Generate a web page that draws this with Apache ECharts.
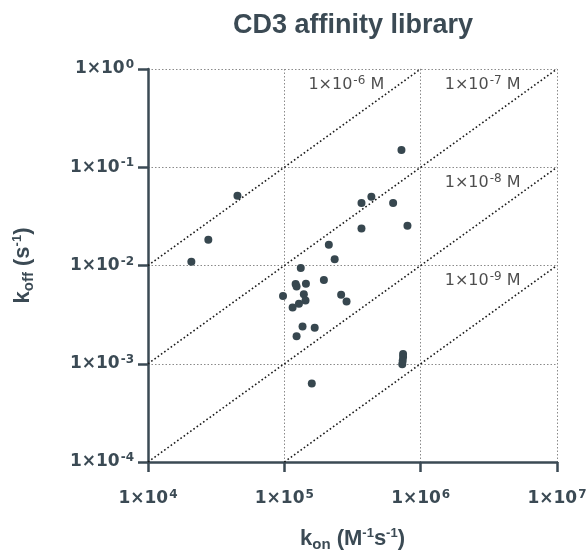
<!DOCTYPE html>
<html>
<head>
<meta charset="utf-8">
<script src="https://cdn.jsdelivr.net/npm/echarts@6/dist/echarts.min.js"></script>
<style>html,body{margin:0;padding:0;background:#fff}#c{width:587px;height:554px}</style>
</head>
<body>
<div id="c"></div>
<script>
// kon (M^-1 s^-1)
const kon = [7.23e5, 4.53e4, 2.77e4, 2.08e4, 3.68e5, 4.35e5, 6.28e5, 3.68e5, 8.0e5, 2.12e5,
             2.34e5, 1.32e5, 1.21e5, 1.23e5, 1.44e5, 1.95e5, 9.78e4, 1.39e5, 1.43e5, 1.28e5,
             1.15e5, 2.61e5, 2.86e5, 1.36e5, 1.67e5, 1.23e5, 1.59e5, 7.43e5, 7.43e5, 7.38e5, 7.33e5];
// koff (s^-1)
const koff = [0.150, 0.0513, 0.0183, 0.0109, 0.0432, 0.0501, 0.0432, 0.0238, 0.0254, 0.0163,
              0.0116, 0.00941, 0.00647, 0.00611, 0.00651, 0.00710, 0.00488, 0.00511, 0.00440, 0.00407,
              0.00373, 0.00503, 0.00430, 0.00239, 0.00232, 0.00191, 0.000629, 0.00126, 0.00117, 0.00107, 0.00099];
// iso-affinity lines (KD, M)
const kdValues = [1e-6, 1e-7, 1e-8, 1e-9];
const kdExponents = [-6, -7, -8, -9];
const xRange = [1e4, 1e7];
const yRange = [1e-4, 1];

const FONT = 'DejaVu Sans';
const INK = '#3b4a54';

const points = kon.map((k, i) => [k, koff[i]]);

function isoLine(kd) {
  let x0 = xRange[0], y0 = x0 * kd;
  if (y0 < yRange[0]) { y0 = yRange[0]; x0 = y0 / kd; }
  let x1 = xRange[1], y1 = x1 * kd;
  if (y1 > yRange[1]) { y1 = yRange[1]; x1 = y1 / kd; }
  return [[x0, y0], [x1, y1]];
}

const lineSeries = kdValues.map(kd => ({
  type: 'line',
  data: isoLine(kd),
  symbol: 'none',
  silent: true,
  lineStyle: { color: '#1a1a1a', width: 1.6, type: [1.6, 2.4] },
  z: 2
}));

const labelData = kdValues.map((kd, i) => {
  const end = isoLine(kd)[1];
  return { value: [end[0] * 0.54, end[1] * 0.69], exp: kdExponents[i] };
});

const expFmt = v => {
  const e = Math.round(Math.log10(v));
  return '{b|1×10}{s|' + e + '}';
};

const nameRich = {
  k: { fontFamily: 'Liberation Sans', fontWeight: 'bold', fontSize: 22, color: INK, lineHeight: 26 },
  sub: { fontFamily: 'Liberation Sans', fontWeight: 'bold', fontSize: 15, color: INK, padding: [12, 0, 0, 0] },
  sup: { fontFamily: 'Liberation Sans', fontWeight: 'bold', fontSize: 13, color: INK, padding: [0, 0, 10, 0] }
};
const tickRich = {
  b: { fontFamily: FONT, fontWeight: 'bold', fontSize: 17, color: INK },
  s: { fontFamily: FONT, fontWeight: 'bold', fontSize: 12, color: INK, padding: [0, 0, 8, 1] }
};

const option = {
  animation: false,
  title: {
    text: 'CD3 affinity library',
    left: 348, top: 7, textAlign: 'center',
    textStyle: { fontFamily: 'Liberation Sans', fontWeight: 'bold', fontSize: 27, color: INK }
  },
  grid: { left: 148, right: 30, top: 69, bottom: 92, outerBoundsMode: 'none', containLabel: false },
  xAxis: {
    type: 'log', logBase: 10, min: xRange[0], max: xRange[1],
    name: '{k|k}{sub|on}{k| (M}{sup|-1}{k|s}{sup|-1}{k|)}',
    nameLocation: 'middle', nameGap: 63,
    nameTextStyle: { rich: nameRich },
    axisLine: { show: true, lineStyle: { color: INK, width: 2.5 } },
    axisTick: { show: true, length: 10, lineStyle: { color: INK, width: 2.5 } },
    axisLabel: { margin: 27, formatter: expFmt, rich: tickRich },
    splitLine: { show: true, lineStyle: { color: '#8a8a8a', type: [1.5, 2], width: 1 } }
  },
  yAxis: {
    type: 'log', logBase: 10, min: yRange[0], max: yRange[1],
    name: '{k|k}{sub|off}{k| (s}{sup|-1}{k|)}',
    nameLocation: 'middle', nameGap: 112, nameRotate: 90,
    nameTextStyle: { rich: nameRich },
    axisLine: { show: true, lineStyle: { color: INK, width: 2.5 } },
    axisTick: { show: true, length: 10, lineStyle: { color: INK, width: 2.5 } },
    axisLabel: { margin: 14, formatter: expFmt, rich: tickRich },
    splitLine: { show: true, lineStyle: { color: '#8a8a8a', type: [1.5, 2], width: 1 } }
  },
  series: [
    ...lineSeries,
    {
      type: 'scatter', silent: true, symbolSize: 0, z: 3,
      data: labelData,
      label: {
        show: true, position: 'inside', align: 'right',
        formatter: p => '{n|1×10}{s|' + p.data.exp + '}{n| M}',
        rich: {
          n: { fontFamily: FONT, fontSize: 16, color: '#1f1f1f' },
          s: { fontFamily: FONT, fontSize: 12, color: '#1f1f1f', padding: [0, 0, 8, 1] }
        }
      }
    },
    {
      type: 'scatter', data: points, symbolSize: 8, z: 5,
      itemStyle: { color: '#37474f', opacity: 1 }
    }
  ]
};

echarts.init(document.getElementById('c'), null, { renderer: 'canvas' }).setOption(option);
</script>
</body>
</html>
